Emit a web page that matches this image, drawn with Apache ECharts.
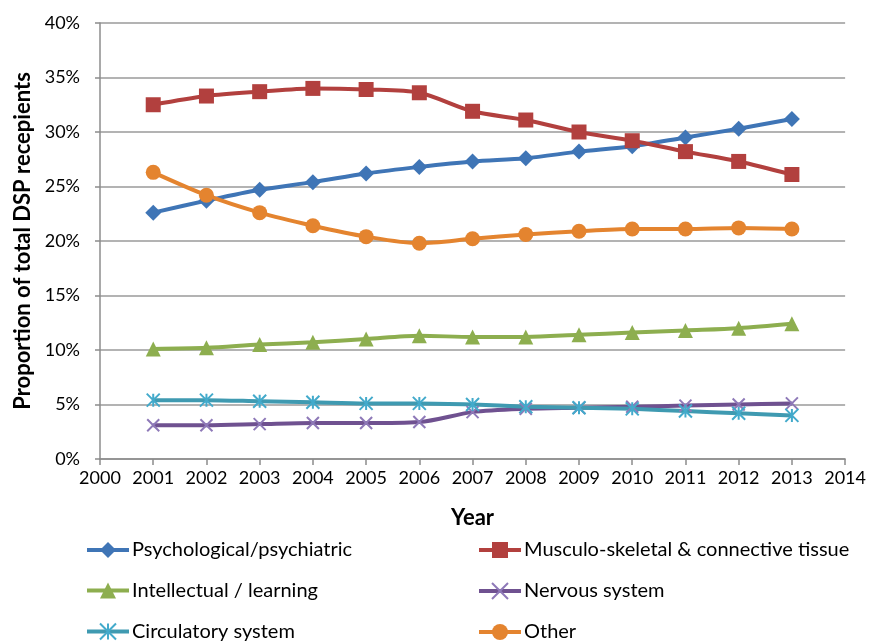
<!DOCTYPE html>
<html>
<head>
<meta charset="utf-8">
<script src="https://cdn.jsdelivr.net/npm/echarts@6/dist/echarts.min.js"></script>
<style>
  html, body { margin: 0; padding: 0; background: #fff; }
  #chart { width: 869px; height: 643px; }
</style>
</head>
<body>
<div id="chart"></div>
<script>
(function () {
    // 数据
    const years = [2001, 2002, 2003, 2004, 2005, 2006, 2007, 2008, 2009, 2010, 2011, 2012, 2013]
    const psych = [22.6, 23.7, 24.7, 25.4, 26.2, 26.8, 27.3, 27.6, 28.2, 28.7, 29.5, 30.3, 31.2]
    const musculo = [32.5, 33.3, 33.7, 34.0, 33.9, 33.6, 31.9, 31.1, 30.0, 29.2, 28.2, 27.3, 26.1]
    const intellectual = [10.1, 10.2, 10.5, 10.7, 11.0, 11.3, 11.2, 11.2, 11.4, 11.6, 11.8, 12.0, 12.4]
    const nervous = [3.1, 3.1, 3.2, 3.3, 3.3, 3.4, 4.3, 4.6, 4.7, 4.8, 4.9, 5.0, 5.1]
    const circulatory = [5.4, 5.4, 5.3, 5.2, 5.1, 5.1, 5.0, 4.8, 4.7, 4.6, 4.4, 4.2, 4.0]
    const other = [26.3, 24.2, 22.6, 21.4, 20.4, 19.8, 20.2, 20.6, 20.9, 21.1, 21.1, 21.2, 21.1]

    const names = ['Psychological/psychiatric', 'Musculo-skeletal & connective tissue',
        'Intellectual / learning', 'Nervous system', 'Circulatory system', 'Other']

    const font = 'Lato, "Open Sans", sans-serif'

    const xPath = 'path://M0 0L10 10M10 0L0 10'
    const starPath = 'path://M5 0L5 10M0 0L10 10M10 0L0 10'

    function pairs(vals) {
        return vals.map((v, i) => [years[i], v])
    }

    function mkSeries(name, vals, color, symbol, size, markColor, stroke) {
        const s = {
            name: name,
            type: 'line',
            data: pairs(vals),
            smooth: 0.3,
            symbol: symbol,
            symbolSize: size,
            showAllSymbol: true,
            lineStyle: { color: color, width: 4 },
            itemStyle: { color: markColor || color },
            emphasis: { disabled: true }
        }
        if (stroke) {
            s.itemStyle = { color: 'none', borderColor: markColor, borderWidth: 2 }
        }
        return s
    }

    function legendCol(left, data) {
        return {
            orient: 'vertical',
            left: left,
            top: 540,
            height: 120,
            padding: 0,
            itemGap: 20.5,
            itemWidth: 42,
            itemHeight: 20,
            lineStyle: { width: 4 },
            textStyle: { fontSize: 20, color: '#000', fontFamily: font, padding: [0, 0, 0, -2] },
            data: data
        }
    }

    const chart = echarts.init(document.getElementById('chart'))
    const option = {
        animation: false,
        textStyle: { fontFamily: font },
        grid: { left: 100, right: 21, top: 23, bottom: 184 },
        legend: [
            legendCol(85, [names[0], names[2], names[4]]),
            legendCol(477, [names[1], names[3], names[5]])
        ],
        xAxis: {
            type: 'value',
            min: 2000,
            max: 2014,
            interval: 1,
            name: 'Year',
            nameLocation: 'middle',
            nameGap: 48,
            nameTextStyle: { fontSize: 22, fontWeight: 'bold', color: '#000' },
            axisLine: { lineStyle: { color: '#8c8c8c', width: 1.5 } },
            axisTick: { show: true, length: 6, lineStyle: { color: '#8c8c8c', width: 1.5 } },
            axisLabel: { fontSize: 18, color: '#000', margin: 10, formatter: v => String(v) },
            splitLine: { show: false }
        },
        yAxis: {
            type: 'value',
            min: 0,
            max: 40,
            interval: 5,
            name: 'Proportion of total DSP recepients',
            nameLocation: 'middle',
            nameGap: 66,
            nameTextStyle: { fontSize: 22, fontWeight: 'bold', color: '#000' },
            axisLine: { show: true, lineStyle: { color: '#8c8c8c', width: 1.5 } },
            axisTick: { show: true, length: 5, lineStyle: { color: '#8c8c8c', width: 1.5 } },
            axisLabel: { fontSize: 18, color: '#000', margin: 20, formatter: '{value}%' },
            splitLine: { show: true, lineStyle: { color: '#9a9a9a', width: 1.5 } }
        },
        series: [
            mkSeries(names[0], psych, '#3f75b6', 'diamond', 16),
            mkSeries(names[1], musculo, '#b2403e', 'rect', 15),
            mkSeries(names[2], intellectual, '#8dae4f', 'triangle', 15),
            mkSeries(names[3], nervous, '#6f5190', xPath, 12, '#8e79b8', true),
            mkSeries(names[4], circulatory, '#3f9ab1', starPath, 13, '#43aacb', true),
            mkSeries(names[5], other, '#e4842f', 'circle', 15)
        ]
    }
    chart.setOption(option)
})()
</script>
</body>
</html>
